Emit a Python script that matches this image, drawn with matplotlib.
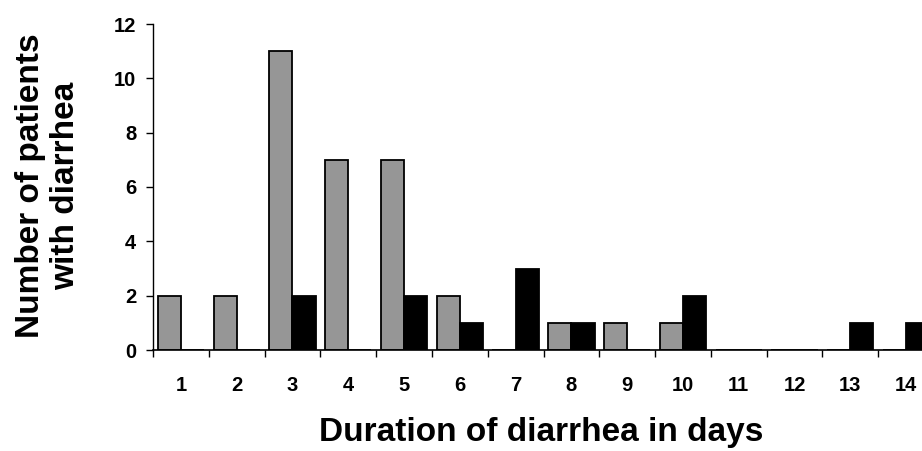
import matplotlib.pyplot as plt
import numpy as np

plt.rcParams['font.family'] = ['Liberation Sans', 'DejaVu Sans']

days = [str(d) for d in range(1, 15)]
gray_counts = [2, 2, 11, 7, 7, 2, 0, 1, 1, 1, 0, 0, 0, 0]
black_counts = [0, 0, 2, 0, 2, 1, 3, 1, 0, 2, 0, 0, 1, 1]
y_ticks = [0, 2, 4, 6, 8, 10, 12]

fig = plt.figure(figsize=(9.22, 4.51), dpi=100)
# axes runs past the right edge, as in the original scan
ax = fig.add_axes([153 / 922, 1 - 350 / 451, (934 - 153) / 922, (350 - 24) / 451])

x = np.arange(len(days))
w = 0.415
ax.bar(x - w / 2, gray_counts, w, color='#969696', edgecolor='black', linewidth=1.3)
ax.bar(x + w / 2, black_counts, w, color='black', edgecolor='black', linewidth=1.3)

ax.set_xlim(-0.5, len(days) - 0.5)
ax.set_ylim(0, 12)
ax.set_yticks(y_ticks)
ax.set_xticks(x)
ax.set_xticklabels(days)
ax.set_xticks(np.arange(len(days) + 1) - 0.5, minor=True)
ax.tick_params(axis='x', which='major', length=0, pad=19, labelsize=14.5)
ax.tick_params(axis='x', which='minor', length=5, width=1, direction='out')
ax.tick_params(axis='y', length=5, width=1, labelsize=14.5, pad=7)
for lbl in ax.get_xticklabels() + ax.get_yticklabels():
    lbl.set_fontweight('bold')

for side in ['top', 'right']:
    ax.spines[side].set_visible(False)
ax.spines['left'].set_linewidth(1)
ax.spines['bottom'].set_linewidth(1.2)

aw, ah = 934 - 153, 350 - 24
ax.set_xlabel('Duration of diarrhea in days', fontsize=24, fontweight='bold')
ax.xaxis.label.set_va('center')
ax.xaxis.set_label_coords((541 - 153) / aw, -(432 - 350) / ah)
ax.set_ylabel('Number of patients\nwith diarrhea', fontsize=24, fontweight='bold',
              linespacing=1.15)
ax.yaxis.label.set_va('center')
ax.yaxis.label.set_ha('center')
ax.yaxis.set_label_coords(-(153 - 48) / aw, (350 - 186) / ah)

fig.savefig('out.png', dpi=100)
